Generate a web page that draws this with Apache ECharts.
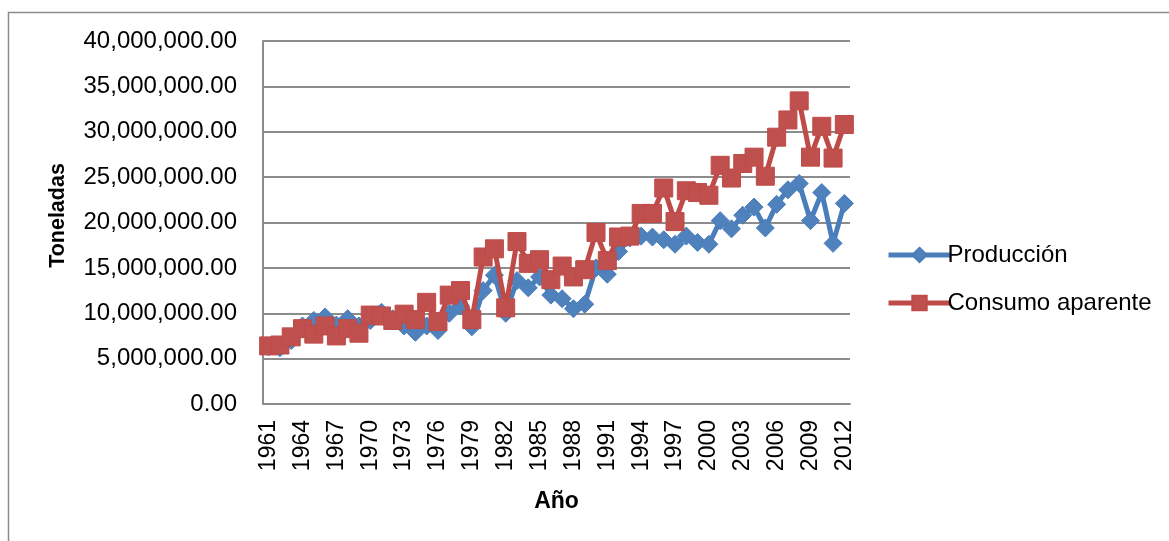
<!DOCTYPE html>
<html>
<head>
<meta charset="utf-8">
<script src="https://cdn.jsdelivr.net/npm/echarts@6/dist/echarts.min.js"></script>
<style>
  html, body { margin: 0; padding: 0; background: #fff; }
  #chart { width: 1169px; height: 541px; }
</style>
</head>
<body>
<div id="chart"></div>
<script>
// Años 1961–2012
const years = [];
for (let y = 1961; y <= 2012; y++) years.push(String(y));

// Producción (toneladas, millones)
const produccion = [
  6.3, 6.2, 7.0, 8.6, 9.2, 9.6, 8.7, 9.4, 8.6, 9.2,
  10.1, 9.4, 8.6, 7.9, 8.6, 8.1, 10.0, 10.8, 8.5, 12.5,
  14.2, 10.0, 13.6, 12.8, 14.0, 12.0, 11.6, 10.5, 11.0, 15.0,
  14.3, 16.8, 18.3, 18.5, 18.4, 18.1, 17.6, 18.5, 17.8, 17.6,
  20.2, 19.3, 20.8, 21.7, 19.4, 22.0, 23.6, 24.3, 20.2, 23.3,
  17.7, 22.1
];

// Consumo aparente (toneladas, millones)
const consumo = [
  6.4, 6.5, 7.4, 8.3, 7.7, 8.6, 7.5, 8.3, 7.8, 9.8,
  9.7, 9.2, 9.9, 9.3, 11.2, 9.1, 12.0, 12.5, 9.3, 16.2,
  17.1, 10.6, 17.9, 15.5, 15.9, 13.7, 15.2, 14.0, 14.8, 18.9,
  15.8, 18.4, 18.5, 21.0, 21.0, 23.8, 20.1, 23.5, 23.3, 23.0,
  26.3, 24.9, 26.5, 27.2, 25.1, 29.4, 31.3, 33.4, 27.2, 30.6,
  27.1, 30.8
];

const toTons = arr => arr.map(v => Math.round(v * 1e6));

const fmt = v => v.toLocaleString('en-US', { minimumFractionDigits: 2, maximumFractionDigits: 2 });

const FONT = '"Liberation Sans", Arial, sans-serif';
const BLUE = '#4A7EBB';
const RED = '#BE4B48';

const chart = echarts.init(document.getElementById('chart'), null, { renderer: 'canvas' });

chart.setOption({
  animation: false,
  backgroundColor: '#fff',
  textStyle: { fontFamily: FONT },
  graphic: [{
    type: 'rect',
    shape: { x: 8.5, y: 12.5, width: 1300, height: 700 },
    style: { fill: 'none', stroke: '#8c8c8c', lineWidth: 1.5 },
    silent: true
  }],
  grid: { left: 263, right: 319, top: 41, bottom: 137, containLabel: false },
  legend: {
    orient: 'vertical',
    left: 881,
    top: 238,
    itemGap: 24,
    itemWidth: 62,
    itemHeight: 18,
    lineStyle: { width: 5 },
    textStyle: { fontSize: 24, color: '#000', fontFamily: FONT, padding: [0, 0, 0, -8] },
    data: ['Producción', 'Consumo aparente']
  },
  xAxis: {
    type: 'category',
    data: years,
    boundaryGap: true,
    name: 'Año',
    nameLocation: 'middle',
    nameGap: 86,
    nameTextStyle: { fontSize: 23, fontWeight: 'bold', color: '#000', fontFamily: FONT },
    axisLine: { lineStyle: { color: '#8c8c8c', width: 2 } },
    axisTick: { show: false },
    axisLabel: {
      interval: 2,
      rotate: 90,
      fontSize: 23,
      color: '#000',
      margin: 16,
      fontFamily: FONT
    },
    splitLine: { show: false }
  },
  yAxis: {
    type: 'value',
    min: 0,
    max: 40000000,
    interval: 5000000,
    name: 'Toneladas',
    nameLocation: 'middle',
    nameGap: 194,
    nameRotate: 90,
    nameTextStyle: { fontSize: 21.5, fontWeight: 'bold', color: '#000', fontFamily: FONT, padding: [0, 0, 0, 14] },
    axisLine: { show: true, lineStyle: { color: '#8c8c8c', width: 2 } },
    axisTick: { show: false },
    axisLabel: {
      fontSize: 24,
      color: '#000',
      margin: 26,
      fontFamily: FONT,
      formatter: fmt
    },
    splitLine: { lineStyle: { color: '#8c8c8c', width: 2 } }
  },
  series: [
    {
      name: 'Producción',
      type: 'line',
      data: toTons(produccion),
      symbol: 'diamond',
      symbolSize: 18,
      showAllSymbol: true,
      lineStyle: { color: BLUE, width: 5 },
      itemStyle: { color: '#4F81BD', borderColor: BLUE, borderWidth: 1 },
      z: 2
    },
    {
      name: 'Consumo aparente',
      type: 'line',
      data: toTons(consumo),
      symbol: 'rect',
      symbolSize: 18,
      showAllSymbol: true,
      lineStyle: { color: RED, width: 5 },
      itemStyle: { color: '#C0504D', borderColor: RED, borderWidth: 1 },
      z: 3
    }
  ]
});
</script>
</body>
</html>
